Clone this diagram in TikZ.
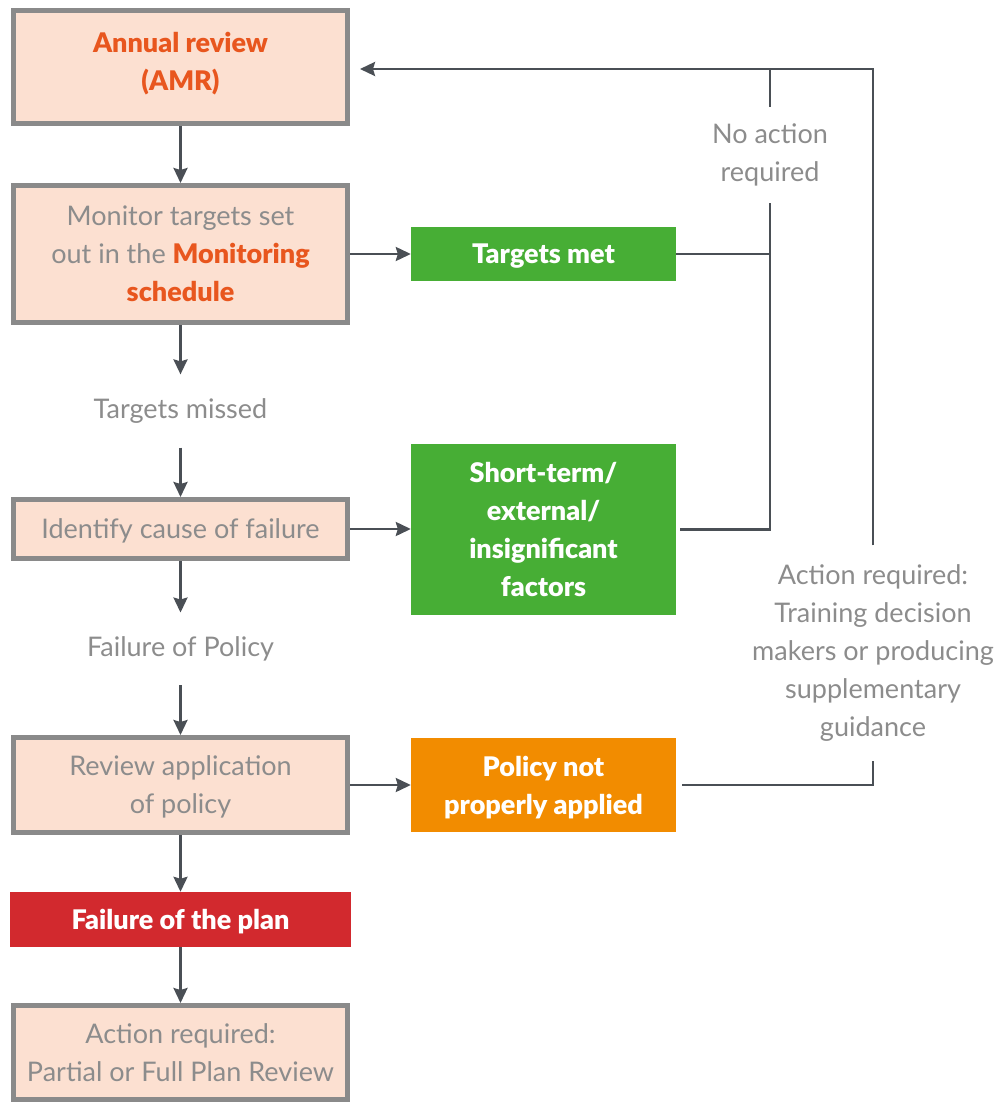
\documentclass[tikz,border=0pt]{standalone}
\usepackage{fontspec}
\setmainfont{Lato}[BoldFont={Lato Black}]
\usetikzlibrary{arrows.meta}
\definecolor{peach}{HTML}{FCE0D1}
\definecolor{rim}{HTML}{8A8A8A}
\definecolor{ink}{HTML}{8C8C8C}
\definecolor{flame}{HTML}{E8561E}
\definecolor{leaf}{HTML}{47AE35}
\definecolor{amber}{HTML}{F28C00}
\definecolor{brick}{HTML}{D2292E}
\definecolor{wire}{HTML}{4A4F55}
\begin{document}
\begin{tikzpicture}[x=1pt,y=-1pt]
\fontsize{27}{38}\selectfont
\tikzset{
    box/.style={draw=rim, line width=5pt, fill=peach, text=ink, align=center, minimum width=334pt, inner sep=0pt, text depth=0pt},
    flag/.style={text=white, font=\bfseries, align=center, minimum width=265pt, inner sep=0pt, text depth=0pt},
    note/.style={text=ink, align=center, inner xsep=0pt},
    arr/.style={draw=wire, line width=2.6pt, -{Stealth[length=15pt,width=14pt,inset=2pt]}},
    link/.style={draw=wire, line width=2.6pt},
}
\useasboundingbox (0,0) rectangle (998,1102);
\coordinate (corner) at (873,69); % top right bend

% Main column, top to bottom.
\node[box, minimum height=113pt, text=flame, font=\bfseries, text depth=12pt] (amr) at (180.5,67) {Annual review\\(AMR)};
\node[box, minimum height=137pt] (mon) at (180.5,254) {Monitor targets set\\out in the \textcolor{flame}{\bfseries Monitoring}\\\textcolor{flame}{\bfseries schedule}};
\node[note, inner ysep=24pt] (missed) at (180.5,411) {Targets missed};
\node[box, minimum height=59pt] (ident) at (180.5,529) {Identify cause of failure};
\node[note, inner ysep=24pt] (polfail) at (180.5,649) {Failure of Policy};
\node[box, minimum height=95pt] (rev) at (180.5,785) {Review application\\of policy};
\node[flag, fill=brick, minimum width=341pt, minimum height=55pt] (fail) at (180.5,919.5) {Failure of the plan};
\node[box, minimum height=94pt] (act) at (180.5,1052.5) {Action required:\\Partial or Full Plan Review};

% Outcomes to the right.
\node[flag, fill=leaf, minimum height=54pt] (met) at (543.5,254) {Targets met};
\node[flag, fill=leaf, minimum height=171pt] (minor) at (543.5,529.5) {Short-term/\\external/\\insignificant\\factors};
\node[flag, fill=amber, minimum height=94pt] (misapp) at (543.5,785) {Policy not\\properly applied};

% Notes sitting on the return lines.
\node[note, inner ysep=17pt] (noact) at (770,155) {No action\\required};
\node[note, inner ysep=19pt] (train) at (873,653) {Action required:\\Training decision\\makers or producing\\supplementary\\guidance};

% Down the main column.
\draw[arr] (amr) -- (mon);
\draw[arr] (mon) -- (missed);
\draw[arr] (missed) -- (ident);
\draw[arr] (ident) -- (polfail);
\draw[arr] (polfail) -- (rev);
\draw[arr] (rev) -- (fail);
\draw[arr] (fail) -- (act);

% Across to the outcomes.
\draw[arr] (mon.east) -- (mon.east -| met.west);
\draw[arr] (ident.east) -- (ident.east -| minor.west);
\draw[arr] (rev.east) -- (rev.east -| misapp.west);

% Back up to the review.
\draw[link] (met.east) -- (met.east -| noact.south);
\draw[link, shorten <=4pt] (minor.east) -| (noact.south);
\draw[link] (noact.north) -- (noact.north |- corner);
\draw[link, shorten <=6pt] (misapp.east) -| (train.south);
\draw[arr, shorten >=10pt] (train.north) -- (corner) -- (corner -| amr.east);
\end{tikzpicture}
\end{document}
